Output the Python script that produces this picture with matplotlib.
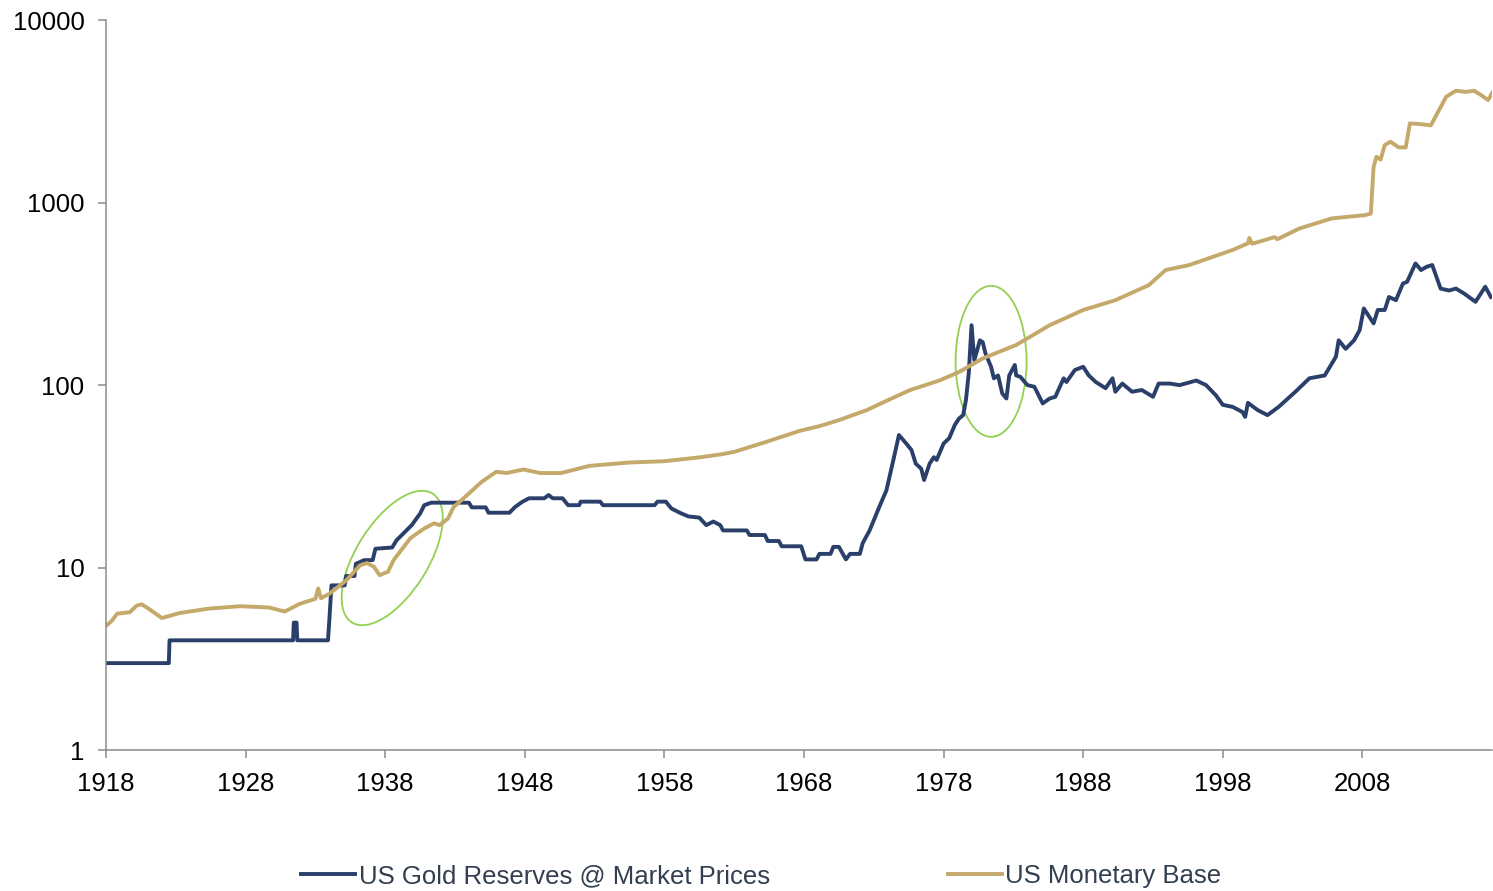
import numpy as np
import matplotlib
matplotlib.use('Agg')
import matplotlib.pyplot as plt
from matplotlib.patches import Ellipse
from matplotlib.transforms import ScaledTranslation
from matplotlib.ticker import NullLocator

plt.rcParams['font.family'] = ['Liberation Sans', 'DejaVu Sans']

# --- data ---
# US Monetary Base
mb_years = [1918.0, 1918.4, 1918.8, 1919.7, 1920.2, 1920.55, 1921.0, 1922.0, 1923.3, 1925.4,
            1927.6, 1929.7, 1930.8, 1931.9, 1933.0, 1933.2, 1933.4, 1934.0, 1935.2, 1936.2,
            1936.7, 1937.2, 1937.6, 1938.2, 1938.6, 1939.8, 1940.8, 1941.5, 1941.9, 1942.5,
            1942.9, 1944.0, 1944.9, 1945.95, 1946.7, 1947.9, 1949.1, 1950.6, 1952.6, 1955.5,
            1958.0, 1960.5, 1962.0, 1963.0, 1965.3, 1967.7, 1969.1, 1970.5, 1972.5, 1973.9,
            1975.6, 1977.7, 1979.1, 1980.8, 1983.2, 1985.6, 1988.0, 1990.3, 1992.7, 1993.9,
            1995.6, 1998.7, 1999.8, 1999.9, 2000.1, 2001.5, 2001.7, 2001.9, 2003.5, 2005.8,
            2008.2, 2008.6, 2008.8, 2009.0, 2009.3, 2009.6, 2010.0, 2010.6, 2011.1, 2011.4,
            2011.9, 2012.4, 2012.9, 2014.0, 2014.7, 2015.4, 2016.0, 2016.5, 2017.0, 2017.3]
mb_values = [4.8, 5.1, 5.6, 5.7, 6.2, 6.3, 6.0, 5.3, 5.65, 5.97,
             6.15, 6.05, 5.75, 6.35, 6.75, 7.7, 6.8, 7.2, 8.5, 10.3,
             10.6, 10.1, 9.1, 9.5, 11.0, 14.5, 16.4, 17.5, 17.1, 18.6,
             21.5, 25.5, 29.5, 33.5, 33.0, 34.5, 33.0, 33.0, 36.1, 37.7,
             38.3, 40.2, 41.7, 43.1, 48.9, 56.2, 59.6, 64.3, 73, 82,
             94, 106, 118, 140, 166, 213, 258, 292, 353, 427,
             455, 550, 598, 640, 595, 640, 647, 630, 722, 819,
             854, 870, 1571, 1782, 1720, 2065, 2155, 2006, 2006, 2716,
             2700, 2678, 2650, 3800, 4100, 4040, 4100, 3880, 3645, 4000]

# US Gold Reserves @ Market Prices
gold_years = [1918.0, 1922.5, 1922.55, 1931.4, 1931.45, 1931.65, 1931.7, 1933.9, 1934.0, 1934.15,
              1935.1, 1935.2, 1935.8, 1935.9, 1936.5, 1937.1, 1937.3, 1938.5, 1938.8, 1939.3,
              1939.9, 1940.5, 1940.8, 1941.3, 1944.0, 1944.2, 1945.2, 1945.4, 1946.9, 1947.3,
              1947.8, 1948.3, 1949.4, 1949.7, 1950.0, 1950.7, 1951.1, 1951.9, 1952.0, 1953.4,
              1953.6, 1957.3, 1957.5, 1958.1, 1958.5, 1959.1, 1959.7, 1960.5, 1961.0, 1961.5,
              1962.0, 1962.2, 1963.9, 1964.1, 1965.2, 1965.4, 1966.2, 1966.4, 1967.8, 1968.1,
              1968.9, 1969.1, 1969.9, 1970.1, 1970.5, 1971.0, 1971.3, 1972.0, 1972.2, 1972.7,
              1973.4, 1973.9, 1974.4, 1974.8, 1975.3, 1975.7, 1976.0, 1976.4, 1976.6, 1977.0,
              1977.3, 1977.5, 1978.0, 1978.4, 1978.8, 1979.1, 1979.4, 1979.6, 1979.8, 1980.0,
              1980.2, 1980.6, 1980.8, 1981.0, 1981.4, 1981.6, 1981.9, 1982.2, 1982.5, 1982.7,
              1983.1, 1983.2, 1983.5, 1984.0, 1984.5, 1985.1, 1985.6, 1986.0, 1986.6, 1986.8,
              1987.4, 1988.0, 1988.4, 1988.9, 1989.6, 1990.1, 1990.3, 1990.8, 1991.5, 1992.2,
              1993.0, 1993.4, 1994.2, 1994.9, 1996.1, 1996.8, 1997.5, 1998.0, 1998.7, 1999.4,
              1999.6, 1999.8, 2000.5, 2001.2, 2002.0, 2003.2, 2004.2, 2005.3, 2006.1, 2006.3,
              2006.8, 2007.4, 2007.8, 2008.1, 2008.8, 2009.1, 2009.6, 2009.9, 2010.4, 2010.9,
              2011.2, 2011.8, 2012.2, 2012.6, 2013.0, 2013.6, 2014.2, 2014.7, 2015.3, 2016.1,
              2016.8, 2017.2]
gold_values = [3, 3, 4, 4, 5, 5, 4, 4, 5.2, 8.0,
               8.0, 9.0, 9.0, 10.5, 11.0, 11.0, 12.7, 12.9, 14.1, 15.4,
               17.1, 19.8, 22.0, 22.7, 22.7, 21.4, 21.4, 20.0, 20.0, 21.5,
               22.9, 24.0, 24.0, 25.0, 24.0, 24.0, 22.0, 22.0, 23.0, 23.0,
               22.0, 22.0, 23.0, 23.0, 21.1, 20.0, 19.1, 18.8, 17.1, 17.9,
               17.1, 16.0, 16.0, 15.1, 15.1, 14.0, 14.0, 13.1, 13.1, 11.1,
               11.1, 11.9, 11.9, 13.0, 13.0, 11.1, 11.9, 11.9, 13.6, 16.0,
               21.6, 26.5, 38.9, 53.3, 48.1, 44.1, 37.2, 34.8, 30.2, 37.2,
               40.3, 38.9, 47.9, 51.2, 60.5, 65.6, 68.5, 83, 116, 213,
               137, 176, 172, 149, 126, 109, 113, 90, 84.5, 113,
               129, 113, 111, 100, 98, 79.4, 84.5, 86.3, 109, 104,
               121, 126, 113, 104, 96.2, 109, 92, 102, 92, 94,
               86.3, 102, 102, 100, 106, 100, 88, 78, 76, 71.3,
               67, 80, 73, 68.5, 76, 92, 109, 113, 143, 176,
               158, 176, 200, 263, 218, 258, 258, 304, 292, 360,
               368, 464, 427, 445, 455, 338, 330, 338, 317, 286,
               346, 304]

# highlight ellipses: centre (year, value)
circle_years = [1938.5, 1981.4]
circle_values = [11.3, 135]

year_ticks = list(range(1918, 2009, 10))
value_ticks = [1, 10, 100, 1000, 10000]

navy = '#2B3F6B'
tan = '#C5A96B'
green = '#92D050'
grey = '#8C8C8C'

fig = plt.figure(figsize=(14.93, 8.91), dpi=100)
ax = fig.add_axes([0.071, 0.158, 0.9285, 0.8195])

ax.plot(gold_years, gold_values, color=navy, lw=2.8, label='US Gold Reserves @ Market Prices',
        solid_joinstyle='round')
ax.plot(mb_years, mb_values, color=tan, lw=2.8, label='US Monetary Base',
        solid_joinstyle='round')

# green highlight ellipses, sized in inches
sizes = [(1.52, 0.72, 58), (0.71, 1.51, 0)]
for cx, cy, (w, h, ang) in zip(circle_years, circle_values, sizes):
    tr = fig.dpi_scale_trans + ScaledTranslation(cx, cy, ax.transData)
    e = Ellipse((0, 0), w, h, angle=ang, transform=tr, fill=False, ec=green, lw=1.3)
    ax.add_patch(e)

ax.set_yscale('log')
ax.set_ylim(1, 10000)
ax.set_xlim(1918, 2017.3)
ax.set_yticks(value_ticks)
ax.set_yticklabels([str(v) for v in value_ticks])
ax.yaxis.set_minor_locator(NullLocator())
ax.set_xticks(year_ticks)
ax.set_xticklabels([str(y) for y in year_ticks])

for s in ['top', 'right']:
    ax.spines[s].set_visible(False)
for s in ['left', 'bottom']:
    ax.spines[s].set_color(grey)
    ax.spines[s].set_linewidth(1.1)
ax.tick_params(axis='both', direction='out', length=5.5, width=1.1, color=grey,
               labelsize=18.5, pad=10, labelcolor='black')

leg = fig.legend(loc='center', bbox_to_anchor=(0.51, 0.017), ncol=2, frameon=False,
                 fontsize=18.5, handlelength=2.1, handletextpad=0.15, columnspacing=6.9)
for t in leg.get_texts():
    t.set_color('#333F50')

fig.savefig('out.png', dpi=100)
